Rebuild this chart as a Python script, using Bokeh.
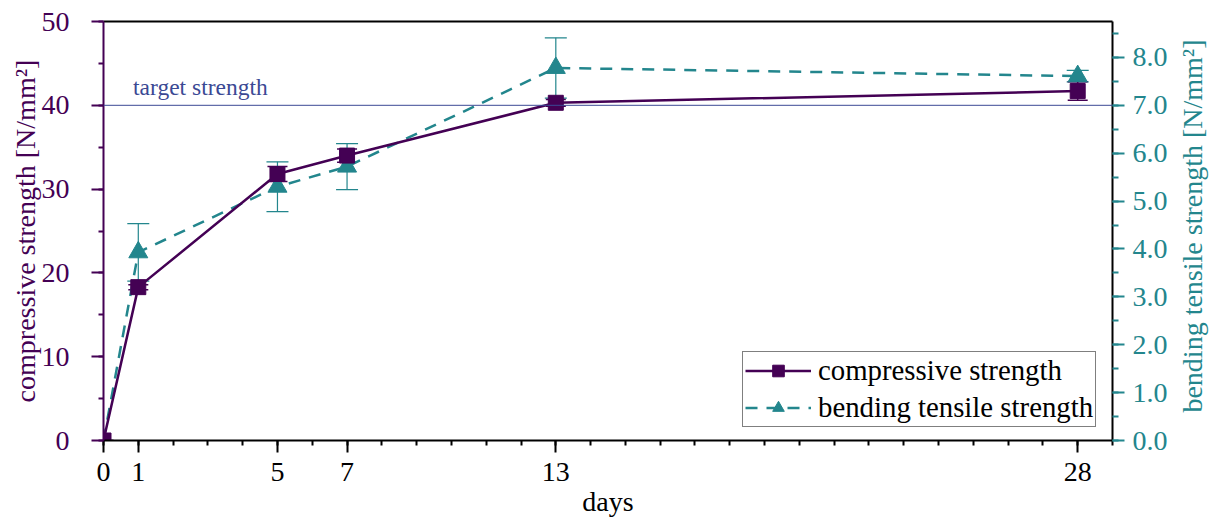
import math
from bokeh.plotting import figure
from bokeh.layouts import row
from bokeh.core.properties import value
from bokeh.models import (Range1d, LinearAxis, FixedTicker, SingleIntervalTicker,
                          NumeralTickFormatter, ColumnDataSource, Whisker, TeeHead,
                          Span, Label, Legend, LegendItem)
from bokeh.embed import file_html
from bokeh.resources import INLINE

days = [0, 1, 5, 7, 13, 28]
compressive = [0.0, 18.3, 31.8, 34.0, 40.3, 41.7]
compressive_err = [0.0, 0.3, 0.9, 0.8, 0.4, 1.1]
bending = [0.0, 3.93, 5.3, 5.72, 7.78, 7.61]
bending_err = [0.0, 0.6, 0.52, 0.48, 0.63, 0.12]
target_strength = 40
x_ticks = [0, 1, 5, 7, 13, 28]
x_label = "days"
y_left_label = "compressive strength [N/mm²]"
y_right_label = "bending tensile strength [N/mm²]"

X0, X1 = 0, 29
YL0, YL1 = 0, 50
YR0, YR1 = 0, 8.75

FONT = "Liberation Serif"
FS = "28px"
PURPLE = "#440154"
TEAL = "#23868d"
NAVY = "#3b4994"

W, H = 1214, 528
W_SIDE = 38
BORDER_L, BORDER_R, BORDER_T, BORDER_B = 103, 102, 21, 88


def blank(fig):
    fig.grid.visible = False
    fig.outline_line_color = None
    fig.background_fill_color = "white"
    fig.border_fill_color = "white"


p = figure(width=W - W_SIDE, height=H, x_range=Range1d(X0, X1),
           y_range=Range1d(YL0, YL1), title=None,
           output_backend="svg", toolbar_location=None, x_axis_location=None,
           y_axis_location=None,
           min_border_left=BORDER_L, min_border_right=BORDER_R - W_SIDE,
           min_border_top=BORDER_T, min_border_bottom=BORDER_B)
blank(p)
p.extra_y_ranges = {"bend": Range1d(YR0, YR1)}

yl = LinearAxis(ticker=SingleIntervalTicker(interval=10, num_minor_ticks=2),
                axis_label=y_left_label)
yr = LinearAxis(y_range_name="bend",
                ticker=SingleIntervalTicker(interval=1, num_minor_ticks=2),
                formatter=NumeralTickFormatter(format="0.0"))
xb = LinearAxis(ticker=FixedTicker(ticks=x_ticks, minor_ticks=list(range(0, 30))),
                axis_label=x_label)
xt = LinearAxis(ticker=FixedTicker(ticks=[]), major_label_text_font_size="0px")

for ax, col in ((yl, PURPLE), (yr, TEAL), (xb, "black")):
    ax.axis_line_color = col if ax is not yr else "black"
    ax.axis_line_width = 2
    ax.major_tick_line_color = col
    ax.minor_tick_line_color = col
    ax.major_tick_line_width = 2
    ax.minor_tick_line_width = 2
    ax.major_tick_in = 0
    ax.minor_tick_in = 0
    ax.major_label_text_font = FONT
    ax.major_label_text_font_size = FS
    ax.major_label_text_color = col
    ax.axis_label_text_font = FONT
    ax.axis_label_text_font_size = FS
    ax.axis_label_text_font_style = "normal"
    ax.axis_label_text_color = col

yl.major_tick_out = 12
yl.minor_tick_out = 5
yl.major_label_standoff = 22
yl.axis_label_standoff = -2
yr.major_tick_out = 12
yr.minor_tick_out = 6
yr.major_label_standoff = 8
xb.major_tick_out = 12
xb.minor_tick_out = 5
xb.major_label_standoff = 10
xb.axis_label_standoff = 2
xt.axis_line_width = 2
xt.axis_line_color = "black"
xt.major_tick_out = 0
xt.minor_tick_out = 0

p.add_layout(yl, "left")
p.add_layout(yr, "right")
p.add_layout(xb, "below")
p.add_layout(xt, "above")

p.add_layout(Span(location=target_strength, dimension="width", line_color=NAVY, line_width=1))
p.add_layout(Label(x=0.85, y=target_strength, y_offset=18, text="target strength",
                   text_font=FONT, text_font_size="23.5px", text_color=NAVY,
                   text_baseline="alphabetic"))

cs = ColumnDataSource(dict(x=days, y=compressive,
                           lo=[a - b for a, b in zip(compressive, compressive_err)],
                           hi=[a + b for a, b in zip(compressive, compressive_err)]))
bs = ColumnDataSource(dict(x=days, y=bending,
                           lo=[a - b for a, b in zip(bending, bending_err)],
                           hi=[a + b for a, b in zip(bending, bending_err)]))

p.add_layout(Whisker(source=bs, base="x", lower="lo", upper="hi", y_range_name="bend",
                     line_color=TEAL, line_width=1.2,
                     upper_head=TeeHead(size=22, line_color=TEAL, line_width=1.2),
                     lower_head=TeeHead(size=22, line_color=TEAL, line_width=1.2)))
p.add_layout(Whisker(source=cs, base="x", lower="lo", upper="hi",
                     line_color=PURPLE, line_width=1.5,
                     upper_head=TeeHead(size=20, line_color=PURPLE, line_width=1.5),
                     lower_head=TeeHead(size=20, line_color=PURPLE, line_width=1.5)))

bl = p.line("x", "y", source=bs, y_range_name="bend", line_color=TEAL, line_width=2.5,
            line_dash="12 9")
bm = p.scatter("x", "y", source=bs, y_range_name="bend", marker="triangle", size=19,
               fill_color=TEAL, line_color=TEAL)
cl = p.line("x", "y", source=cs, line_color=PURPLE, line_width=2.5)
cm = p.scatter("x", "y", source=cs, marker="square", size=15,
               fill_color=PURPLE, line_color=PURPLE)

legend = Legend(items=[LegendItem(label="compressive strength", renderers=[cl, cm]),
                       LegendItem(label="bending tensile strength", renderers=[bl, bm])],
                location=(639, 13), label_text_font=FONT, label_text_font_size="28.8px",
                label_text_color="black", glyph_width=66, glyph_height=29,
                label_height=29, spacing=4, padding=2, margin=0,
                border_line_color="black", border_line_width=1,
                label_standoff=7, background_fill_alpha=1)
p.add_layout(legend)

# right-hand axis title, reading bottom-to-top, in a narrow side panel
q = figure(width=W_SIDE, height=H, x_range=Range1d(0, 1),
           y_range=Range1d(YL0, YL1), title=None,
           output_backend="svg", toolbar_location=None, x_axis_location=None,
           y_axis_location=None, min_border_left=0, min_border_right=0,
           min_border_top=BORDER_T, min_border_bottom=BORDER_B)
blank(q)
q.text(x=[0.5], y=[(YL0 + YL1) / 2], text=[y_right_label], angle=math.pi / 2,
       x_offset=-3, y_offset=-5, text_align="center", text_baseline="middle",
       text_font=value(FONT), text_font_size=value(FS), text_color=TEAL)

layout = row(p, q, spacing=0)
open("out.html", "w").write(file_html(layout, INLINE))
